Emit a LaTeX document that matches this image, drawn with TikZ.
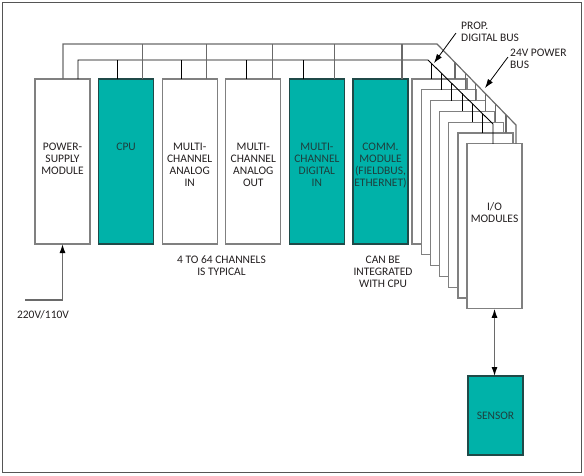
\documentclass[tikz,border=0pt]{standalone}
\usepackage{fontspec}
\setmainfont{Carlito}
\usetikzlibrary{arrows.meta,calc}
\definecolor{plcteal}{HTML}{00B2A9}
\definecolor{tealedge}{HTML}{1F4A48}
\definecolor{tealtext}{HTML}{1E3F3D}
\definecolor{modgray}{HTML}{808080}
\definecolor{busgray}{HTML}{6A6A6A}
\definecolor{framegray}{HTML}{555555}
\definecolor{inkblack}{HTML}{231F20}

\begin{document}
\begin{tikzpicture}[x=1pt,y=-1pt,-{Latex[length=9pt,width=6pt,black]},font=\fontsize{11.5}{12}\selectfont]
   \useasboundingbox (0,0) rectangle (584,475);
   \draw[-, framegray, line width=1.5pt] (2.5,2.5) rectangle (581.5,472.5);
   \tikzstyle{module}=[-, draw=modgray, line width=1.3pt, fill=white, minimum width=55pt, minimum height=165pt, anchor=north west, inner sep=0pt, outer sep=0pt]
   \tikzstyle{tealmod}=[module, fill=plcteal, draw=tealedge]
   \tikzstyle{darktext}=[align=center, inner sep=0pt, text=inkblack]
   \tikzstyle{tealtext}=[align=center, inner sep=0pt, text=tealtext]
   \tikzstyle{powerbus}=[-, draw=busgray, line width=1.2pt]
   \tikzstyle{digitalbus}=[-, draw=black, line width=0.9pt]
   \tikzstyle{feed}=[draw=busgray, line width=1.2pt]
   \tikzstyle{callout}=[draw=black, line width=0.8pt]
   % rack modules
   \foreach \i/\name/\kind/\look/\txt in {0/psu/module/darktext/{POWER-\\SUPPLY\\MODULE},
       1/cpu/tealmod/tealtext/{CPU},
       2/ain/module/darktext/{MULTI-\\CHANNEL\\ANALOG\\IN},
       3/aout/module/darktext/{MULTI-\\CHANNEL\\ANALOG\\OUT},
       4/din/tealmod/tealtext/{MULTI-\\CHANNEL\\DIGITAL\\IN},
       5/comm/tealmod/tealtext/{COMM.\\MODULE\\(FIELDBUS,\\ETHERNET)}} {
       \node[\kind] (\name) at (35+63.6*\i,79) {};
       \node[\look, anchor=north] (\name-txt) at ($(\name.north)+(0,64)$) {\txt};
   }
   % stacked I/O modules
   \foreach \k in {1,...,7} {
       \node[module] (io\k) at (412+9.17*\k-9.17,79+10.8*\k-10.8) {};
   }
   \node[darktext, anchor=north] (io-txt) at ($(io7.north)+(0,58.5)$) {I/O\\MODULES};
   \node[tealmod, minimum height=79pt] (sensor) at (468,376) {};
   \node[tealtext] (sensor-txt) at (sensor.center) {SENSOR};
   % notes
   \node[darktext] (chnote) at (221.5,266) {4 TO 64 CHANNELS\\IS TYPICAL};
   \node[darktext] (cpunote) at (383,272) {CAN BE\\INTEGRATED\\WITH CPU};
   \node[darktext, align=left, anchor=west] (proplbl) at (461,32) {PROP.\\DIGITAL BUS};
   \node[darktext, align=left, anchor=west] (pwrlbl) at (510,59) {24V POWER\\BUS};
   \node[darktext] (mainslbl) at (43,315) {220V/110V};
   % buses
   \coordinate (pwa) at (437,44);
   \coordinate (pwb) at (516,125);
   \coordinate (dba) at (428,60);
   \coordinate (dbb) at (493,124);
   \draw[powerbus] ([xshift=28pt]psu.north west) |- (pwa) -- (pwb) -- (pwb |- io7.north);
   \draw[digitalbus] ([xshift=43pt]psu.north west) |- (dba) -- (dbb) -- (dbb |- io7.north);
   \foreach \m/\p/\d in {cpu/44/19, ain/44/19, aout/47/21, din/45/14} {
       \draw[powerbus] ([xshift=\p pt]\m.north west) -- ([xshift=\p pt]\m.north west |- pwa);
       \draw[digitalbus] ([xshift=\d pt]\m.north west) -- ([xshift=\d pt]\m.north west |- dba);
   }
   \draw[powerbus] ([xshift=49pt]comm.north west) -- ([xshift=49pt]comm.north west |- pwa);
   \foreach \k in {1,...,6} {
       \pgfmathsetmacro\tp{0.228+0.129*(\k-1)}
       \pgfmathsetmacro\td{0.046+0.159*(\k-1)}
       \draw[powerbus] ($(pwa)!\tp!(pwb)$) coordinate (pw\k) -- (pw\k |- io\k.north);
       \draw[digitalbus] ($(dba)!\td!(dbb)$) coordinate (db\k) -- (db\k |- io\k.north);
   }
   % feeds and callouts
   \coordinate (mains) at (25,300);
   \draw[feed] (mains) -| (psu.south);
   \draw[feed, {Latex[length=9pt,width=6pt,black]}-{Latex[length=9pt,width=6pt,black]}] (io7.south) -- (io7.south |- sensor.north);
   \coordinate (proptip) at (434,63);
   \coordinate (pwrtip) at (485,88);
   \draw[callout] ([xshift=-5pt,yshift=-1pt]proplbl.west) -- (proptip);
   \draw[callout] ([xshift=-2pt,yshift=2pt]pwrlbl.west) -- (pwrtip);
\end{tikzpicture}
\end{document}
